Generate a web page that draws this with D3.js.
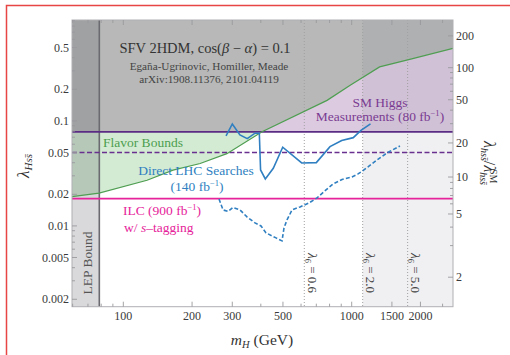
<!DOCTYPE html>
<html><head><meta charset="utf-8">
<script src="https://cdn.jsdelivr.net/npm/d3@7"></script>
<style>body{margin:0;background:#fff}svg{display:block}text{font-family:"Liberation Serif","DejaVu Serif",serif}</style>
</head><body>
<svg id="c" width="510" height="355"></svg>
<script>
// ---- data ----
const xTicks = [100, 200, 300, 500, 1000, 1500, 2000];
const xMinor = [60, 70, 80, 90, 400, 600, 700, 800, 900, 2500];
const yTicks = [0.002, 0.005, 0.01, 0.02, 0.05, 0.1, 0.2, 0.5];
const yMinor = [0.003, 0.004, 0.006, 0.007, 0.008, 0.009, 0.03, 0.04, 0.06, 0.07, 0.08, 0.09, 0.3, 0.4, 0.6, 0.7, 0.8, 0.9];
const rTicks = [2, 5, 10, 20, 50, 100, 200];
const rMinor = [3, 4, 6, 7, 8, 9, 30, 40, 60, 70, 80, 90];
const ratioSlope = 308; // lambda_hss/lambda_SM = 1 + 308*lambda_Hss

const lepBound = 78.5;
const smHiggs = 0.0786;
const smHiggsProj = 0.05;
const ilc = 0.0182;
const lambda6 = [{m: 620, lab: "0.6"}, {m: 1117, lab: "2.0"}, {m: 1758, lab: "5.0"}];

const flavorM = [59.6, 78.3, 127, 165, 217, 284, 405, 780, 981, 1325, 1795, 2777];
const flavorL = [0.0190, 0.0205, 0.0272, 0.0340, 0.0393, 0.0488, 0.0788, 0.157, 0.218, 0.327, 0.386, 0.491];

const lhcM = [281.7, 300.1, 324, 349, 377, 394, 399, 418.5, 453.6, 498.8, 604, 700, 803.5, 904, 1016, 1098, 1209];
const lhcL = [0.0720, 0.0936, 0.0736, 0.0678, 0.0764, 0.0764, 0.0341, 0.0280, 0.0354, 0.0562, 0.0398, 0.0401, 0.0569, 0.0652, 0.0693, 0.0812, 0.0936];

const hlM = [262.4, 273.3, 287.3, 302.1, 324.3, 348, 377.3, 400.7, 421.5, 466.3, 495.4, 505.3, 521, 547.9, 593.7, 650.3, 704.7, 771.9, 828, 907, 1003, 1066, 1109, 1179, 1291, 1428, 1627];
const hlL = [0.01807, 0.01420, 0.01374, 0.01501, 0.01420, 0.01218, 0.01068, 0.0100, 0.00858, 0.00769, 0.00720, 0.00957, 0.0114, 0.0142, 0.01517, 0.01656, 0.01848, 0.02203, 0.0251, 0.02772, 0.0293, 0.0313, 0.0331, 0.0365, 0.0425, 0.0496, 0.0578];

// ---- layout ----
const L = 72, R = 453, T = 20, B = 306.7;
const x = d3.scaleLog().domain([59.6, 2777]).range([L, R]);
const y = d3.scaleLog().domain([0.0017, 0.915]).range([B, T]);
const yr = r => y((r - 1) / ratioSlope);

const svg = d3.select("#c");
svg.append("rect").attr("x", 6.5).attr("y", 5.5).attr("width", 520).attr("height", 370)
  .attr("fill", "none").attr("stroke", "#e84545").attr("stroke-width", 1.5);

const defs = svg.append("defs");
defs.append("clipPath").attr("id", "plot").append("rect").attr("x", L).attr("y", T).attr("width", R - L).attr("height", B - T);
defs.append("clipPath").attr("id", "aboveSM").append("rect").attr("x", L).attr("y", T).attr("width", R - L).attr("height", y(smHiggs) - T);

const g = svg.append("g").attr("clip-path", "url(#plot)");
const flav = flavorM.map((m, i) => [m, flavorL[i]]);
const areaTop = d3.area().x(d => x(d[0])).y0(T).y1(d => y(d[1]));

// SM Higgs excluded (purple)
g.append("rect").attr("x", L).attr("y", T).attr("width", R - L).attr("height", y(smHiggs) - T).attr("fill", "#dccbe0");
// flavor excluded (green)
g.append("path").datum(flav).attr("d", areaTop).attr("fill", "#d3ebd3");
// overlap (gray)
g.append("g").attr("clip-path", "url(#aboveSM)").append("path").datum(flav).attr("d", areaTop).attr("fill", "#b7b8b7");

// LEP band & heavy band overlays
g.append("rect").attr("x", L).attr("y", T).attr("width", x(lepBound) - L).attr("height", B - T).attr("fill", "rgba(80,80,92,0.22)");
g.append("rect").attr("x", x(lambda6[1].m)).attr("y", T).attr("width", R - x(lambda6[1].m)).attr("height", B - T).attr("fill", "rgba(110,110,130,0.10)");

// lambda6 lines
lambda6.forEach(d => {
  g.append("line").attr("x1", x(d.m)).attr("x2", x(d.m)).attr("y1", T).attr("y2", B)
    .attr("stroke", "#a0a0a0").attr("stroke-width", 1).attr("stroke-dasharray", "1,2");
});
g.append("line").attr("x1", x(lepBound)).attr("x2", x(lepBound)).attr("y1", T).attr("y2", B)
  .attr("stroke", "#6a6a70").attr("stroke-width", 1.6);

// horizontal lines
const hline = (v, col, dash, w) => g.append("line").attr("x1", L).attr("x2", R).attr("y1", y(v)).attr("y2", y(v))
  .attr("stroke", col).attr("stroke-width", w).attr("stroke-dasharray", dash);
hline(smHiggs, "#5a2c84", null, 1.6);
hline(smHiggsProj, "#6a3090", "5,2.5", 1.4);
hline(ilc, "#e6239a", null, 1.6);

// curves
const line = d3.line().x(d => x(d[0])).y(d => y(d[1]));
g.append("path").datum(flav).attr("d", line).attr("fill", "none").attr("stroke", "#4f9e52").attr("stroke-width", 1.2);
g.append("path").datum(lhcM.map((m, i) => [m, lhcL[i]])).attr("d", line).attr("fill", "none").attr("stroke", "#2f7fc1").attr("stroke-width", 1.6);
g.append("path").datum(hlM.map((m, i) => [m, hlL[i]])).attr("d", line).attr("fill", "none").attr("stroke", "#2f7fc1").attr("stroke-width", 1.6).attr("stroke-dasharray", "4,2.2");

// frame
svg.append("rect").attr("x", L).attr("y", T).attr("width", R - L).attr("height", B - T).attr("fill", "none").attr("stroke", "#b0b0b4").attr("stroke-width", 1);

// ticks
const tk = svg.append("g").attr("stroke", "#9a9a9e").attr("stroke-width", 0.9);
xTicks.concat(xMinor).forEach(v => {
  const len = xTicks.includes(v) ? 5 : 3, px = x(v);
  if (px < L || px > R) return;
  tk.append("line").attr("x1", px).attr("x2", px).attr("y1", B).attr("y2", B - len);
  tk.append("line").attr("x1", px).attr("x2", px).attr("y1", T).attr("y2", T + len);
});
yTicks.concat(yMinor).forEach(v => {
  const len = yTicks.includes(v) ? 5 : 3, py = y(v);
  if (py < T || py > B) return;
  tk.append("line").attr("x1", L).attr("x2", L + len).attr("y1", py).attr("y2", py);
});
rTicks.concat(rMinor).forEach(v => {
  const len = rTicks.includes(v) ? 5 : 3, py = yr(v);
  if (py < T || py > B) return;
  tk.append("line").attr("x1", R).attr("x2", R - len).attr("y1", py).attr("y2", py);
});

// tick labels
const lab = svg.append("g").attr("fill", "#3a3a3a").attr("font-size", 12);
xTicks.forEach(v => lab.append("text").attr("x", x(v)).attr("y", 320).attr("text-anchor", "middle").text(v));
yTicks.forEach(v => lab.append("text").attr("x", 69).attr("y", y(v) + 4).attr("text-anchor", "end").text(v));
rTicks.forEach(v => lab.append("text").attr("x", 456).attr("y", yr(v) + 4).attr("text-anchor", "start").text(v));

// axis titles
svg.append("text").attr("x", 262).attr("y", 345).attr("text-anchor", "middle").attr("font-size", 15.5).attr("fill", "#333")
  .html('<tspan font-style="italic">m</tspan><tspan font-style="italic" font-size="10.5" dy="3">H</tspan><tspan dy="-3"> (GeV)</tspan>');
svg.append("text").attr("transform", "translate(29,166) rotate(-90)").attr("text-anchor", "middle").attr("font-size", 17).attr("fill", "#333")
  .html('<tspan font-style="italic">λ</tspan><tspan font-style="italic" font-size="11" dy="3">Hss̄</tspan>');
svg.append("text").attr("transform", "translate(484,163) rotate(90)").attr("text-anchor", "middle").attr("font-size", 16).attr("fill", "#333")
  .html('<tspan font-style="italic">λ</tspan><tspan font-style="italic" font-size="10" dy="3">hss̄</tspan><tspan dy="-3">/</tspan><tspan font-style="italic">λ</tspan><tspan font-style="italic" font-size="10" dy="4">hss̄</tspan><tspan font-size="10" dx="-16" dy="-10">SM</tspan>');

// annotations
const ann = (xx, yy, txt, col, size, anchor) => svg.append("text").attr("x", xx).attr("y", yy).attr("fill", col)
  .attr("font-size", size).attr("text-anchor", anchor || "middle").html(txt);
ann(205, 53, 'SFV 2HDM, cos(<tspan font-style="italic">β</tspan> − <tspan font-style="italic">α</tspan>) = 0.1', "#333", 14.5);
ann(209, 70, "Egaña-Ugrinovic, Homiller, Meade", "#444", 11.2);
ann(209, 83, "arXiv:1908.11376, 2101.04119", "#444", 11.2);
ann(103, 147, "Flavor Bounds", "#4d9e50", 13.5, "start");
ann(380, 107, "SM Higgs", "#7a3b92", 13.5);
ann(380, 121, 'Measurements (80 fb<tspan font-size="8.5" dy="-5">−1</tspan><tspan dy="5">)</tspan>', "#7a3b92", 13.5);
ann(196, 175, "Direct LHC Searches", "#2f7fc1", 13.5);
ann(197, 191, '(140 fb<tspan font-size="8.5" dy="-5">−1</tspan><tspan dy="5">)</tspan>', "#2f7fc1", 13.5);
ann(123, 215, 'ILC (900 fb<tspan font-size="8.5" dy="-5">−1</tspan><tspan dy="5">)</tspan>', "#e6239a", 13.5, "start");
ann(124, 232, 'w/ <tspan font-style="italic">s</tspan>–tagging', "#e6239a", 13.5, "start");
svg.append("text").attr("transform", "translate(92,263) rotate(-90)").attr("text-anchor", "middle").attr("font-size", 13.5).attr("fill", "#555").text("LEP Bound");
lambda6.forEach(d => {
  svg.append("text").attr("transform", `translate(${x(d.m) + 3.5},273) rotate(90)`).attr("text-anchor", "middle").attr("font-size", 13).attr("fill", "#444")
    .html('<tspan font-style="italic">λ</tspan><tspan font-size="8.5" dy="3">6</tspan><tspan dy="-3"> = ' + d.lab + '</tspan>');
});
</script>
</body></html>
